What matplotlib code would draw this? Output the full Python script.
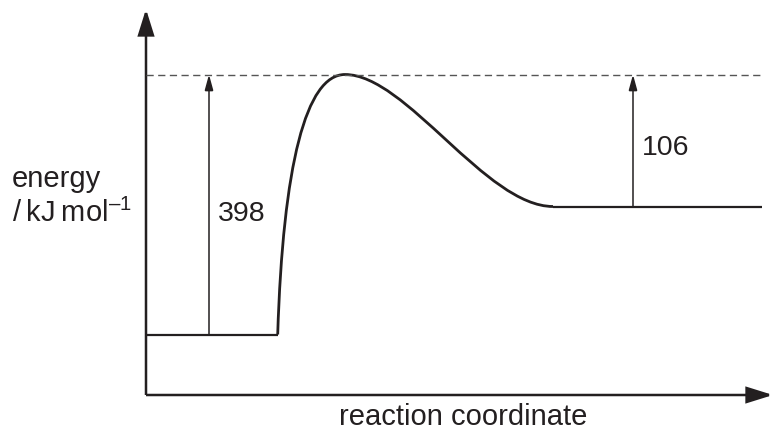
import matplotlib
matplotlib.use("Agg")
import matplotlib.pyplot as plt
from matplotlib.patches import FancyArrowPatch, PathPatch
from matplotlib.path import Path

plt.rcParams['font.family'] = ['Liberation Sans', 'DejaVu Sans']
plt.rcParams['mathtext.fontset'] = 'custom'
plt.rcParams['mathtext.rm'] = 'Liberation Sans'
plt.rcParams['mathtext.it'] = 'Liberation Sans'

# ---- data (diagram units; diagram is not to scale) ----
reactant_level = 60.5
product_level = 188.5
peak_level = 320.5
reactant_x = [0, 131.7]
product_x = [407, 616]
dashed_x = [0, 616]
# profile as cubic Bezier segments: start, control, control, end, control, control, end
curve_x = [131.7, 137, 160, 199, 260, 340, 407]
curve_y = [60.5, 230, 320.5, 320.5, 320.5, 188.5, 188.5]
barrier_forward = 398
barrier_reverse = 106
arrow1_x = 63
arrow2_x = 487
axis_xmax = 627
axis_ymax = 386

ink = '#231f20'

fig = plt.figure(figsize=(7.73, 4.30), dpi=100)
ax = fig.add_axes([146 / 773, 35 / 430, 627 / 773, 386 / 430])
ax.set_xlim(0, axis_xmax)
ax.set_ylim(0, axis_ymax)
ax.axis('off')

def arrow(p0, p1, lw, hl, hw):
    a = FancyArrowPatch(p0, p1, arrowstyle=f'-|>,head_length={hl},head_width={hw}',
                        mutation_scale=1, lw=lw, color=ink, shrinkA=0, shrinkB=0,
                        clip_on=False, joinstyle='miter', capstyle='butt')
    ax.add_patch(a)

# axes with arrowheads
arrow((0, 0), (0, axis_ymax), 1.8, 16, 5)
arrow((0, 0), (axis_xmax, 0), 1.8, 16, 5)

# dashed line at peak
ax.plot(dashed_x, [peak_level, peak_level], color='#555555', lw=1.0,
        linestyle=(0, (5.2, 3.2)), dash_capstyle='butt')

# energy levels and curve
ax.plot(reactant_x, [reactant_level, reactant_level], color=ink, lw=1.6, solid_capstyle='butt')
ax.plot(product_x, [product_level, product_level], color=ink, lw=1.6, solid_capstyle='butt')
verts = list(zip(curve_x, curve_y))
codes = [Path.MOVETO] + [Path.CURVE4] * (len(verts) - 1)
ax.add_patch(PathPatch(Path(verts, codes), facecolor='none', edgecolor=ink, lw=2.0,
                       capstyle='butt', joinstyle='round'))

# barrier arrows
arrow((arrow1_x, reactant_level), (arrow1_x, peak_level), 1.1, 9.5, 2.6)
arrow((arrow2_x, product_level), (arrow2_x, peak_level), 1.1, 9.5, 2.6)

ax.text(arrow1_x + 9, 181, str(barrier_forward), fontsize=20.5, color=ink,
        ha='left', va='center')
ax.text(arrow2_x + 9, 247, str(barrier_reverse), fontsize=20.5, color=ink,
        ha='left', va='center')

# labels
fig.text(12 / 773, 1 - 187 / 430, 'energy', fontsize=21, color=ink, ha='left', va='baseline')
fig.text(12 / 773, 1 - 222 / 430, '/\u2009kJ\u2009mol$^{\\mathregular{–1}}$', fontsize=21,
         color=ink, ha='left', va='baseline')
fig.text(463 / 773, 1 - 425 / 430, 'reaction coordinate', fontsize=21, color=ink,
         ha='center', va='baseline')

fig.savefig('out.png', dpi=100)
